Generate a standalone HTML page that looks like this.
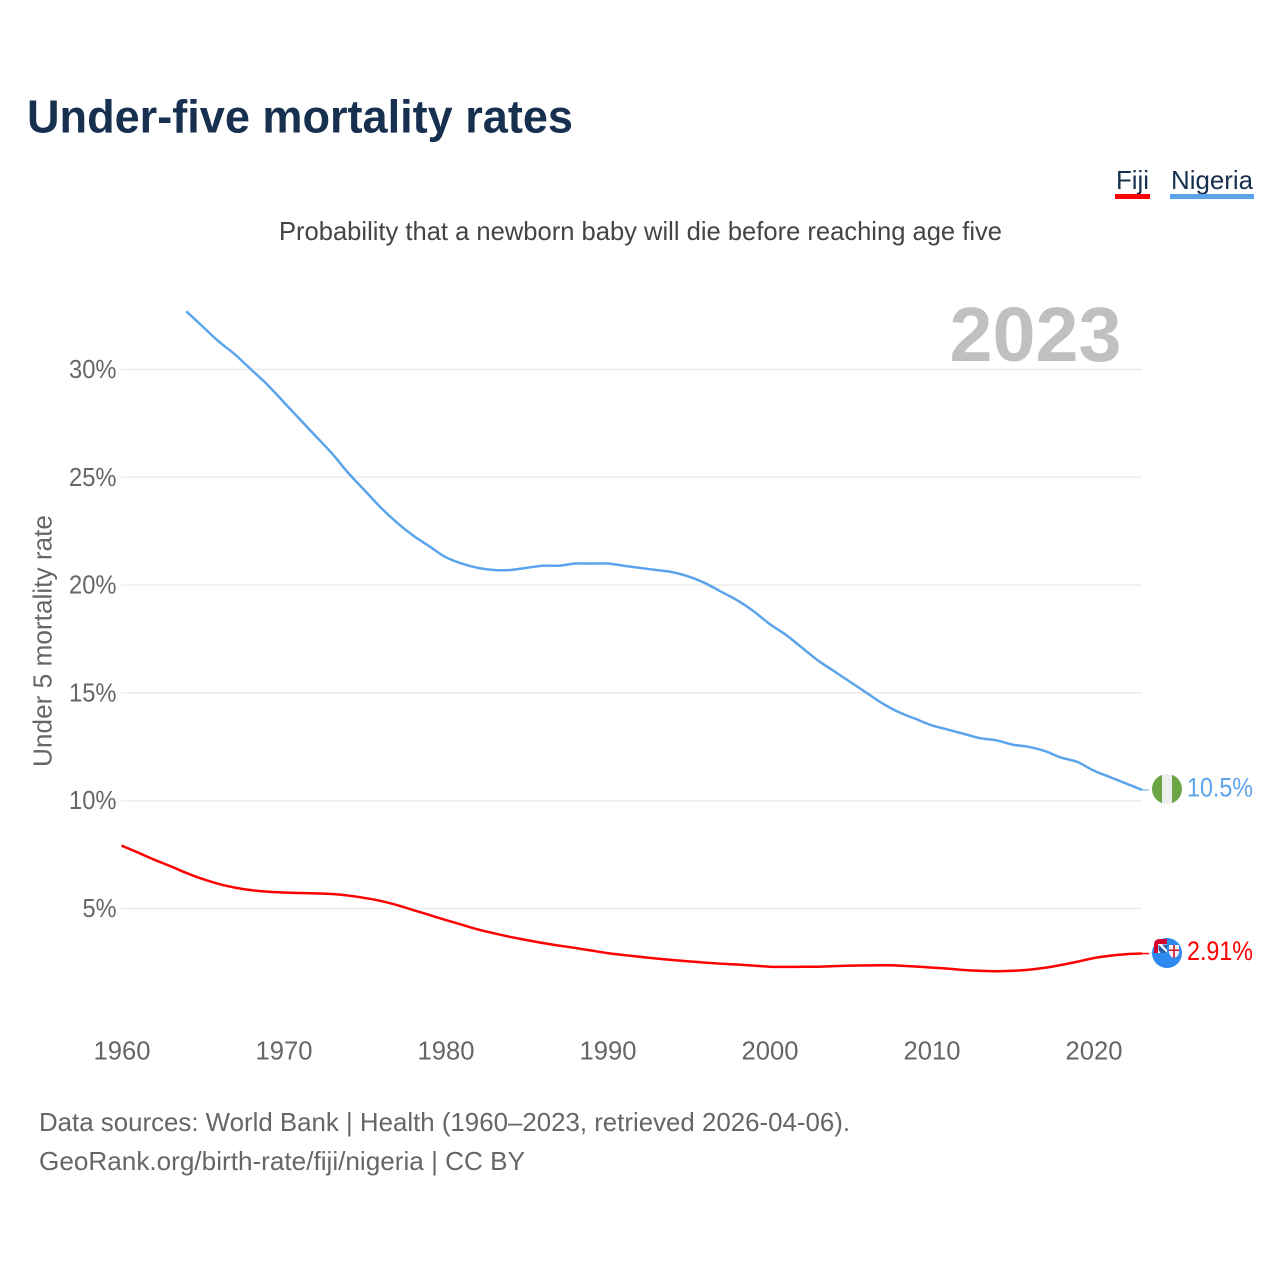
<!DOCTYPE html>
<html lang="en">
<head>
<meta charset="utf-8">
<title>Under-five mortality rates</title>
<style>
html,body{margin:0;padding:0;background:#fff;width:1280px;height:1280px;overflow:hidden}
svg{display:block}
text{font-family:"Liberation Sans",sans-serif}
</style>
</head>
<body>
<svg id="chart" width="1280" height="1280" viewBox="0 0 1280 1280" xmlns="http://www.w3.org/2000/svg">
  <text x="27" y="132.500" font-size="46" font-weight="700" fill="#17304f" textLength="546" lengthAdjust="spacingAndGlyphs">Under-five mortality rates</text>
  <text x="279" y="240" font-size="26" fill="#444444" textLength="723" lengthAdjust="spacingAndGlyphs">Probability that a newborn baby will die before reaching age five</text>

  <g>
    <text x="1116" y="189" font-size="26" fill="#17304f" textLength="33" lengthAdjust="spacingAndGlyphs">Fiji</text>
    <rect x="1115" y="194" width="35" height="5" fill="#ff0000"/>
  </g>
  <g>
    <text x="1171" y="189" font-size="26" fill="#17304f" textLength="82" lengthAdjust="spacingAndGlyphs">Nigeria</text>
    <rect x="1170" y="194" width="84" height="5" fill="#5ba4ec"/>
  </g>

  <g id="grid"></g>

  <text x="949.500" y="361" font-size="77" font-weight="700" fill="#c0c0c0" textLength="172" lengthAdjust="spacingAndGlyphs">2023</text>

  <g id="yticks"></g>
  <g id="xticks"></g>
  <text transform="translate(51.500,767) rotate(-90)" font-size="25.500" fill="#666666" textLength="252" lengthAdjust="spacingAndGlyphs">Under 5 mortality rate</text>

  <g id="series"></g>

  <g>
    <clipPath id="clip-ng"><circle cx="1167" cy="789" r="15"/></clipPath>
    <g clip-path="url(#clip-ng)">
      <rect x="1152" y="774" width="10" height="30" fill="#6ca644"/>
      <rect x="1162" y="774" width="10" height="30" fill="#eeeeee"/>
      <rect x="1172" y="774" width="10" height="30" fill="#6ca644"/>
    </g>
  </g>
  <g>
    <circle cx="1167" cy="953" r="15" fill="#2f8af0"/>
    <path d="M1154 953V945Q1154 939 1160 939H1167V953Z" fill="#d0002f"/>
    <rect x="1158" y="944" width="9" height="9" fill="#ffffff"/>
    <path d="M1158.500 944.500L1167 953H1160.500L1158.500 950ZM1162 944.500H1167V950Z" fill="#2b5fa8"/>
    <path d="M1169 945H1179V953Q1178 957 1174 958Q1170 957 1169 953Z" fill="#f4f4f4"/>
    <path d="M1173.200 945H1174.800V958H1173.200ZM1169 949.500H1179V951H1169Z" fill="#d0102f"/>
  </g>

  <text id="end-label-nigeria" x="1187" y="796.500" font-size="26.500" fill="#5ba4ec" textLength="66" lengthAdjust="spacingAndGlyphs">10.5%</text>
  <text id="end-label-fiji" x="1187" y="960" font-size="26.500" fill="#ff0000" textLength="66" lengthAdjust="spacingAndGlyphs">2.91%</text>

  <text x="39" y="1131" font-size="26" fill="#666666" textLength="811" lengthAdjust="spacingAndGlyphs">Data sources: World Bank | Health (1960–2023, retrieved 2026-04-06).</text>
  <text x="39" y="1170" font-size="26" fill="#666666" textLength="486" lengthAdjust="spacingAndGlyphs">GeoRank.org/birth-rate/fiji/nigeria | CC BY</text>
</svg>
<script>
var yTickValues = [5, 10, 15, 20, 25, 30];
var xTickYears = [1960, 1970, 1980, 1990, 2000, 2010, 2020];
var fijiStartYear = 1960;
var nigeriaStartYear = 1964;
var fijiValues = [7.92,7.6,7.27,6.97,6.65,6.37,6.14,5.97,5.85,5.78,5.74,5.72,5.70,5.67,5.60,5.49,5.35,5.16,4.93,4.70,4.47,4.25,4.03,3.85,3.68,3.54,3.40,3.28,3.17,3.05,2.93,2.84,2.76,2.68,2.61,2.55,2.49,2.44,2.40,2.35,2.30,2.29,2.30,2.30,2.33,2.35,2.36,2.37,2.35,2.31,2.26,2.21,2.15,2.11,2.09,2.11,2.16,2.25,2.38,2.53,2.70,2.81,2.88,2.91];
var nigeriaValues = [32.7,32.0,31.3,30.7,30.0,29.3,28.5,27.7,26.9,26.1,25.2,24.4,23.6,22.9,22.3,21.8,21.3,21.0,20.8,20.7,20.7,20.8,20.9,20.9,21.0,21.0,21.0,20.9,20.8,20.7,20.6,20.4,20.1,19.7,19.3,18.8,18.2,17.7,17.1,16.5,16.0,15.5,15.0,14.5,14.1,13.8,13.5,13.3,13.1,12.9,12.8,12.6,12.5,12.3,12.0,11.8,11.4,11.1,10.8,10.5];

var NS = 'http://www.w3.org/2000/svg';
function xScale(year){ return 121.5 + (year - 1960) * 16.2; }
function yScale(v){ return 908.5 - (v - 5) * 21.56; }
function make(tag, attrs, parent){
  var el = document.createElementNS(NS, tag);
  for (var k in attrs) el.setAttribute(k, attrs[k]);
  parent.appendChild(el);
  return el;
}
function linePath(startYear, values){
  var pts = values.map(function(v, i){ return [xScale(startYear + i), yScale(v)]; });
  var d = 'M' + pts[0][0].toFixed(2) + ' ' + pts[0][1].toFixed(2);
  for (var i = 0; i < pts.length - 1; i++){
    var p0 = pts[Math.max(i - 1, 0)], p1 = pts[i], p2 = pts[i + 1], p3 = pts[Math.min(i + 2, pts.length - 1)];
    var c1x = p1[0] + (p2[0] - p0[0]) / 6, c1y = p1[1] + (p2[1] - p0[1]) / 6;
    var c2x = p2[0] - (p3[0] - p1[0]) / 6, c2y = p2[1] - (p3[1] - p1[1]) / 6;
    d += 'C' + c1x.toFixed(2) + ' ' + c1y.toFixed(2) + ' ' + c2x.toFixed(2) + ' ' + c2y.toFixed(2) + ' ' + p2[0].toFixed(2) + ' ' + p2[1].toFixed(2);
  }
  return d;
}

var grid = document.getElementById('grid');
var yticks = document.getElementById('yticks');
var xticks = document.getElementById('xticks');
var series = document.getElementById('series');

yTickValues.forEach(function(v){
  var line = make('line', {x1: 121, x2: 1142, y1: yScale(v), y2: yScale(v), stroke: '#ececec', 'stroke-width': 1.5}, grid);
  
  
  var label = make('text', {x: 116.5, y: yScale(v) + 8.5, 'font-size': 25.5, fill: '#666666', 'text-anchor': 'end', textLength: v < 10 ? 34 : 47.5, lengthAdjust: 'spacingAndGlyphs'}, yticks);
  
  
  label.textContent = v + '%';
});

xTickYears.forEach(function(year){
  var label = make('text', {x: xScale(year) + 0.5, y: 1059.5, 'font-size': 25.6, fill: '#666666', 'text-anchor': 'middle'}, xticks);
  
  
  label.textContent = year;
});

var nigeriaLine = make('path', {d: linePath(nigeriaStartYear, nigeriaValues), fill: 'none', stroke: '#5ba4ec', 'stroke-width': 2.5, 'stroke-linejoin': 'round'}, series);



var fijiLine = make('path', {d: linePath(fijiStartYear, fijiValues), fill: 'none', stroke: '#ff0000', 'stroke-width': 2.5, 'stroke-linejoin': 'round'}, series);



var nigeriaLast = nigeriaValues[nigeriaValues.length - 1];
var nigeriaLeader = make('line', {x1: xScale(2023), x2: 1149, y1: yScale(nigeriaLast), y2: yScale(nigeriaLast), stroke: '#5ba4ec', 'stroke-width': 1}, series);



var fijiLast = fijiValues[fijiValues.length - 1];
var fijiLeader = make('line', {x1: xScale(2023), x2: 1149, y1: yScale(fijiLast), y2: yScale(fijiLast), stroke: '#ff0000', 'stroke-width': 1.5}, series);



document.getElementById('end-label-nigeria').textContent = nigeriaLast.toFixed(1) + '%';
document.getElementById('end-label-fiji').textContent = fijiLast.toFixed(2) + '%';
</script>
</body>
</html>
